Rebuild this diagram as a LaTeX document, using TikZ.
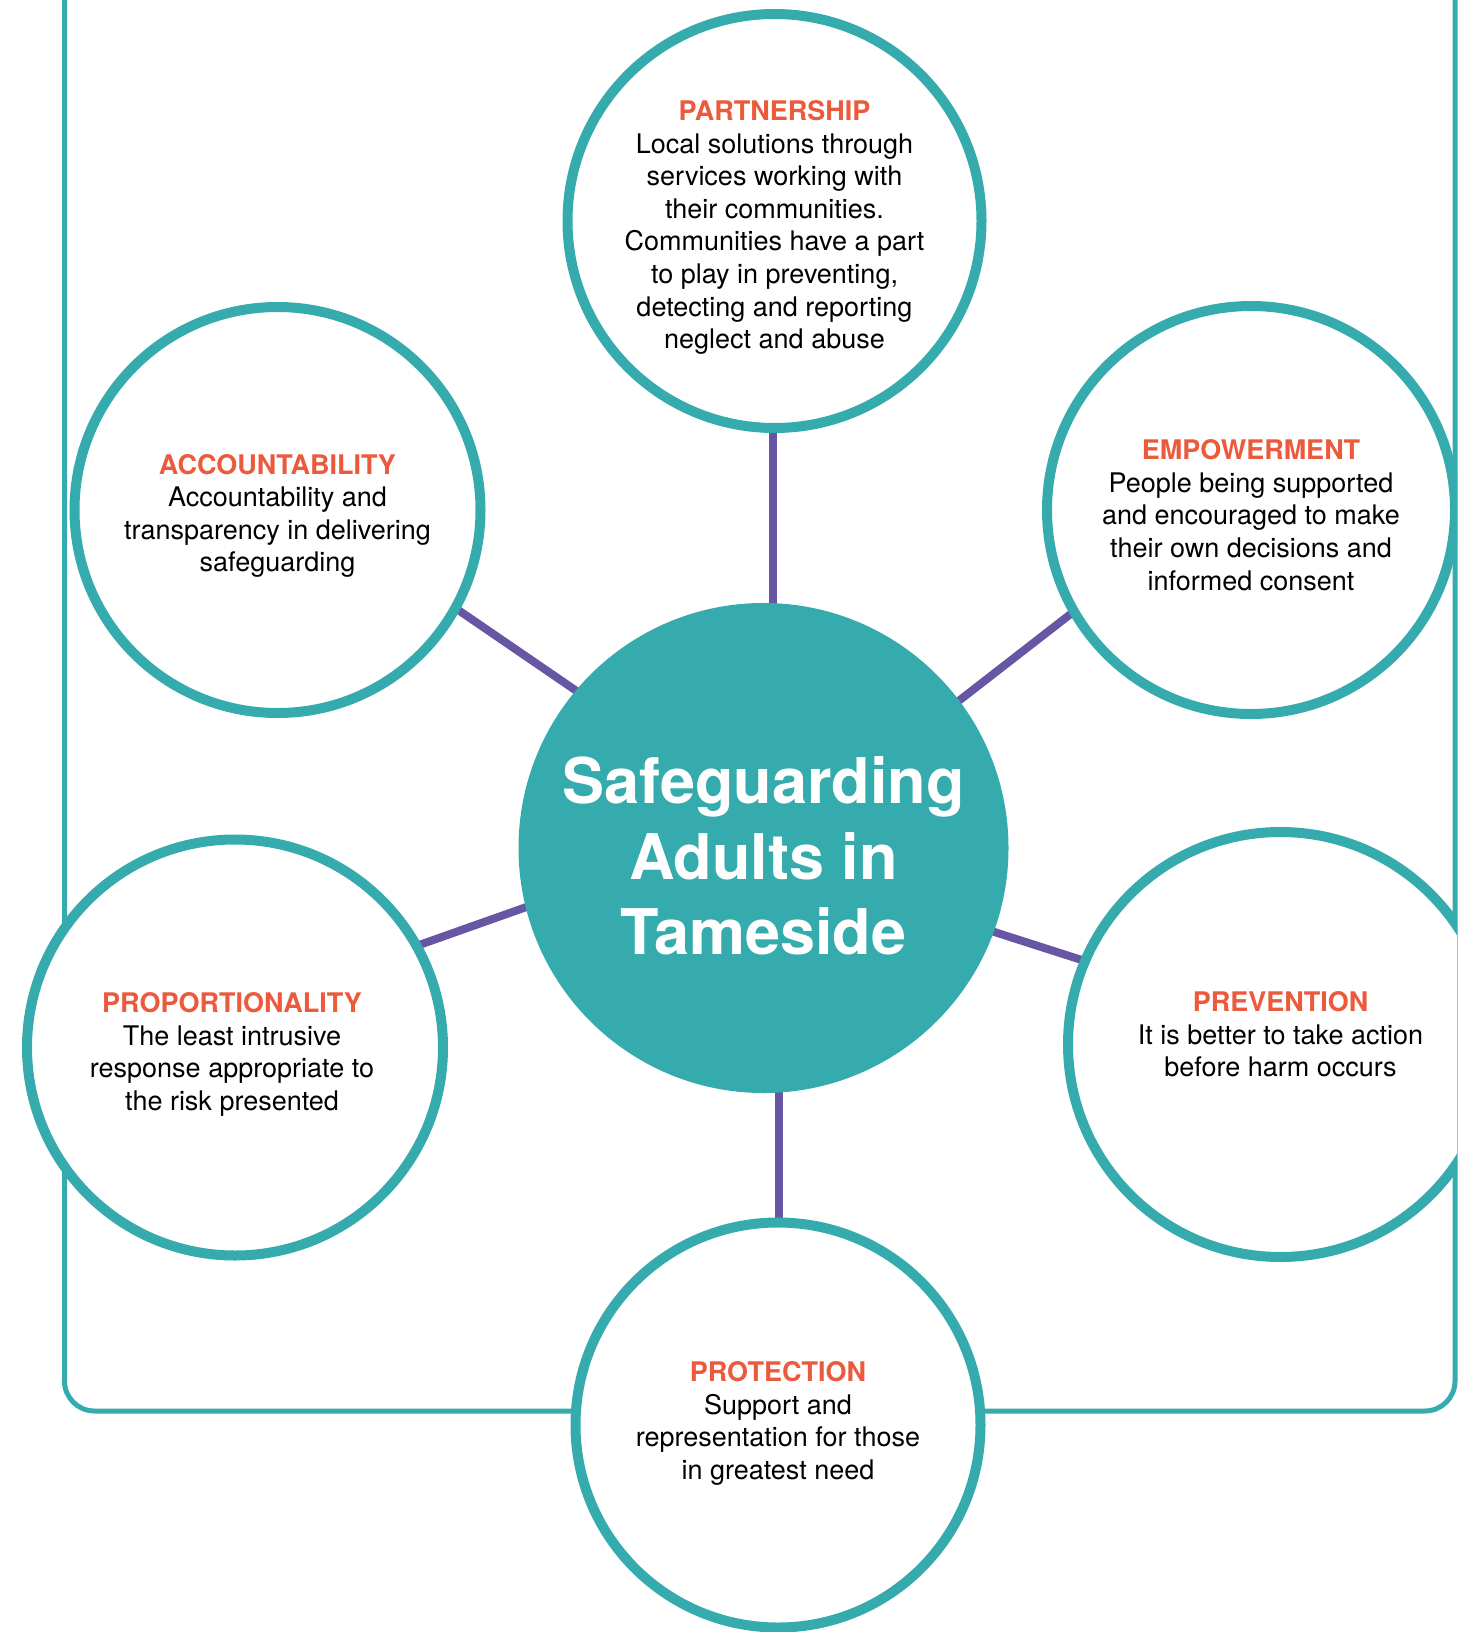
\documentclass[tikz,border=0pt]{standalone}
\usepackage{fontspec}
\setmainfont{TeX Gyre Heros}
\definecolor{sgteal}{HTML}{35ABAD}
\definecolor{sgpurple}{HTML}{6756A4}
\definecolor{sgorange}{HTML}{EB5A3C}
\newcommand{\hd}[1]{{\color{sgorange}\bfseries #1}}
\pgfdeclarelayer{back}
\pgfsetlayers{back,main}
\begin{document}
\begin{tikzpicture}[x=1pt,y=-1pt,
  ring/.style={circle, draw=sgteal, line width=10pt, fill=white, inner sep=0pt},
  txt/.style={align=center, inner sep=0pt, text=black, font=\fontsize{27}{32.6}\selectfont},
  hub/.style={circle, fill=sgteal, inner sep=0pt, minimum size=490pt},
  hubtxt/.style={align=center, inner sep=0pt, text=white, font=\bfseries\fontsize{63}{75.5}\selectfont},
  spoke/.style={draw=sgpurple, line width=8pt, shorten >=-14pt, shorten <=-14pt},
  frame/.style={draw=sgteal, line width=5pt, rounded corners=30pt}
]
\useasboundingbox (0,0) rectangle (1457,1632);
\begin{scope}
\clip (0,0) rectangle (1457,1632);
\node[hub, label={[hubtxt, yshift=-8pt]center:{Safeguarding\\Adults in\\Tameside}}] (ctr) at (763.5,848) {};
\node[ring, minimum size=414pt, label={[txt, yshift=-6.5pt]center:{\hd{PARTNERSHIP}\\Local solutions through\\services working with\\their communities.\\Communities have a part\\to play in preventing,\\detecting and reporting\\neglect and abuse}}] (part) at (774.5,221) {};
\node[ring, minimum size=406pt, label={[txt, yshift=-6pt]center:{\hd{ACCOUNTABILITY}\\Accountability and\\transparency in delivering\\safeguarding}}] (acc) at (277.5,510) {};
\node[ring, minimum size=408pt, label={[txt, yshift=-5pt]center:{\hd{EMPOWERMENT}\\People being supported\\and encouraged to make\\their own decisions and\\informed consent}}] (emp) at (1251,510) {};
\node[ring, minimum size=416pt, label={[txt, yshift=-7pt, xshift=-3pt]center:{\hd{PROPORTIONALITY}\\The least intrusive\\response appropriate to\\the risk presented}}] (prop) at (235,1047.5) {};
\node[ring, minimum size=425pt, label={[txt, yshift=10pt]center:{\hd{PREVENTION}\\It is better to take action\\before harm occurs}}] (prev) at (1280.5,1044.5) {};
\node[ring, minimum size=405pt, label={[txt, yshift=1.5pt]center:{\hd{PROTECTION}\\Support and\\representation for those\\in greatest need}}] (prot) at (778,1425) {};
\end{scope}
\begin{pgfonlayer}{back}
\draw[frame] (64.5,-20) -- (64.5,1411) -- (1455,1411) -- (1455,-20);
\draw[spoke] (acc.-29.4) -- (ctr.140.9);
\draw[spoke] (emp.210.3) -- (ctr.37.4);
\draw[spoke] (prop.29) -- (ctr.194.4);
\draw[spoke] (prev.157.6) -- (ctr.-20);
\draw[spoke] ([xshift=9.2pt]ctr.north) -- ([xshift=9.2pt]ctr.north |- part.south);
\draw[spoke] ([xshift=15.5pt]ctr.south) -- ([xshift=15.5pt]ctr.south |- prot.north);
\end{pgfonlayer}
\end{tikzpicture}
\end{document}
